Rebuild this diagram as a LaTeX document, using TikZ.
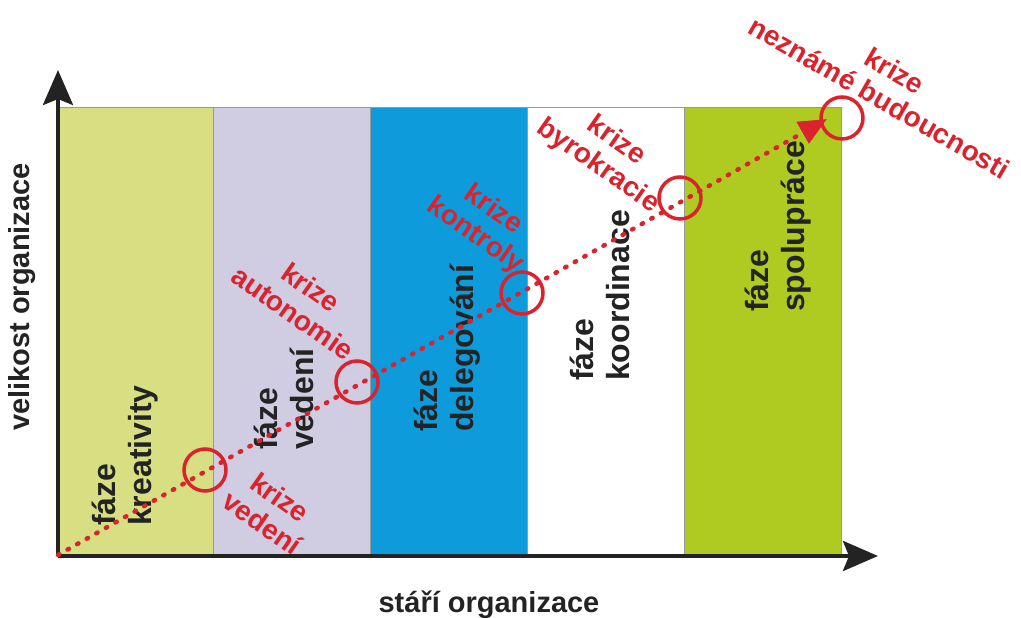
\documentclass[tikz,border=0pt]{standalone}
\usepackage{fontspec}
\setmainfont{Liberation Sans}
\usetikzlibrary{arrows.meta}

\definecolor{creativity}{RGB}{216,223,130}
\definecolor{leading}{RGB}{208,205,227}
\definecolor{delegating}{RGB}{14,155,219}
\definecolor{cooperation}{RGB}{175,203,34}
\definecolor{crisisred}{RGB}{218,35,45}
\definecolor{axisgray}{RGB}{35,35,35}

\tikzset{
  column/.style={draw=gray!80, line width=0.8pt},
  axis/.style={line width=4pt, color=axisgray,
    -{Stealth[length=35pt, width=30pt, inset=6pt]}},
  phase/.style={rotate=90, anchor=west, align=left, text=axisgray,
    font=\bfseries\fontsize{32}{36}\selectfont, inner sep=0pt},
  axislabel/.style={text=axisgray, font=\bfseries\fontsize{29}{34}\selectfont, inner sep=0pt},
  crisis/.style={align=center, text=crisisred,
    font=\bfseries\fontsize{28}{31}\selectfont, inner sep=0pt},
  ring/.style={circle, draw=crisisred, line width=3.5pt, minimum size=42pt, inner sep=0pt},
  growth/.style={crisisred, line width=4.5pt, line cap=round, dash pattern=on 1.5pt off 9.5pt,
    -{Triangle[length=28pt, width=24pt]}},
}

\begin{document}
\begin{tikzpicture}[x=1pt, y=1pt]
\useasboundingbox (0,0) rectangle (1021,618);

% phase columns
\filldraw[column, fill=creativity]  (57,63) rectangle (213,511);
\filldraw[column, fill=leading]     (213,63) rectangle (370,511);
\filldraw[column, fill=delegating]  (370,63) rectangle (527,511);
\filldraw[column, fill=white]       (527,63) rectangle (684,511);
\filldraw[column, fill=cooperation] (684,63) rectangle (841,511);

% axes
\coordinate (origin) at (58,62);
\coordinate (ytip) at (58,548);
\coordinate (xtip) at (878,62);
\draw[axis] (58,63) -- (ytip);
\draw[axis] (origin) -- (xtip);

\node[axislabel, rotate=90] (ylab) at (22,321) {velikost organizace};
\node[axislabel] (xlab) at (489,13) {stáří organizace};

% phase names
\node[phase] (p1) at (125,92)  {fáze\\kreativity};
\node[phase] (p2) at (284,168) {fáze\\vedení};
\node[phase] (p3) at (447,186) {fáze\\delegování};
\node[phase] (p4) at (600,237) {fáze\\koordinace};
\node[phase] (p5) at (778,306) {fáze\\spolupráce};

% growth line with its crises
\coordinate (start) at (58,63);
\coordinate (end) at (827,499);
\draw[growth] (start) -- (end);

\node[ring] (c1) at (205,148) {};
\node[ring] (c2) at (357,236) {};
\node[ring] (c3) at (522,325) {};
\node[ring] (c4) at (680,420) {};
\node[ring] (c5) at (842,500) {};

\node[crisis, rotate=-35] (k1) at (271,108) {krize\\vedení};
\node[crisis, rotate=-35] (k2) at (302,318) {krize\\autonomie};
\node[crisis, rotate=-35] (k3) at (484,395) {krize\\kontroly};
\node[crisis, rotate=-35] (k4) at (607,464) {krize\\byrokracie};
\node[crisis, rotate=-30] (k5) at (887,534) {krize\\neznámé budoucnosti};
\end{tikzpicture}
\end{document}
